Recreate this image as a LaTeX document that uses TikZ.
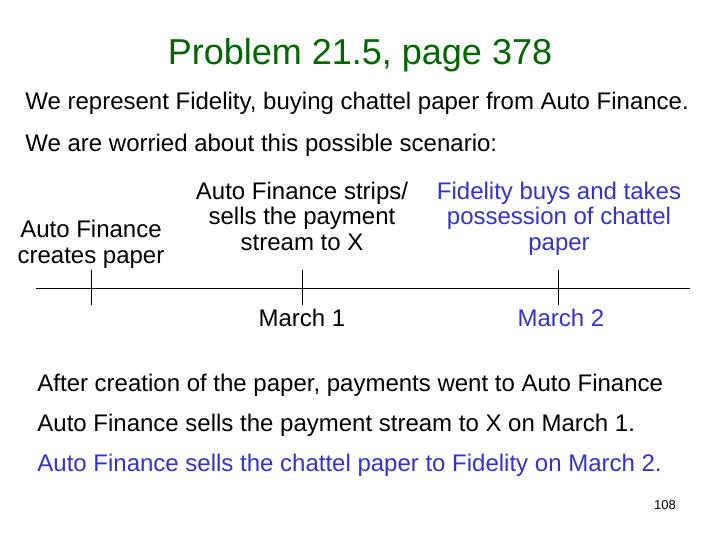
\documentclass[tikz,border=0pt]{standalone}
\usepackage{fontspec}
\setmainfont{Liberation Sans}
\usetikzlibrary{positioning}
\definecolor{titlecolor}{RGB}{0,100,0}
\definecolor{fidcolor}{RGB}{51,51,204}

\begin{document}
\begin{tikzpicture}[%
    x=1pt, y=-1pt,              % one unit per pixel, counted from the top
    line width=0.8pt,           % thin time line
    node distance=4pt,          % dates sit just under their ticks
    ]
\tikzset{
  txt/.style={inner sep=0pt, font=\fontsize{24}{25.5}\selectfont},
  heading/.style={txt, font=\fontsize{36}{40}\selectfont, text=titlecolor},
  textline/.style={txt, anchor=base west},
  event/.style={txt, align=center, anchor=base},
  date/.style={txt, anchor=north},
  fid/.style={text=fidcolor},
  pageno/.style={inner sep=0pt, anchor=base, font=\fontsize{13}{15}\selectfont},
}
\useasboundingbox (0,0) rectangle (720,540);

\node [heading, anchor=base] (title) at (360,65) {Problem 21.5, page 378};
\node [textline] (l1) at (25,110) {We represent Fidelity, buying chattel paper from Auto Finance.};
\node [textline] (l2) at (25,152) {We are worried about this possible scenario:};

% time line with three ticks
\coordinate (tl) at (36,288);
\coordinate (tr) at (690,288);
\draw (tl) -- (tr);
\foreach \n/\x in {0/91, 1/302, 2/558} {
  \coordinate (top\n) at (\x,270);
  \coordinate (bot\n) at (\x,305);
  \draw (top\n) -- (bot\n);
}

\node [event] (e0) at (91,263) {Auto Finance\\creates paper};
\node [event] (e1) at (302,250) {Auto Finance strips/\\sells the payment\\stream to X};
\node [event,fid] (e2) at (559,250) {Fidelity buys and takes\\possession of chattel\\paper};

\node [date,below=of bot1] (d1) {March 1};
\node [date,fid,below=of bot2,xshift=3pt] (d2) {March 2};

\node [textline] (l3) at (37,391) {After creation of the paper, payments went to Auto Finance};
\node [textline] (l4) at (37,431) {Auto Finance sells the payment stream to X on March 1.};
\node [textline,fid] (l5) at (37,471) {Auto Finance sells the chattel paper to Fidelity on March 2.};

\node [pageno] (pg) at (665,509) {108};

\end{tikzpicture}
\end{document}
